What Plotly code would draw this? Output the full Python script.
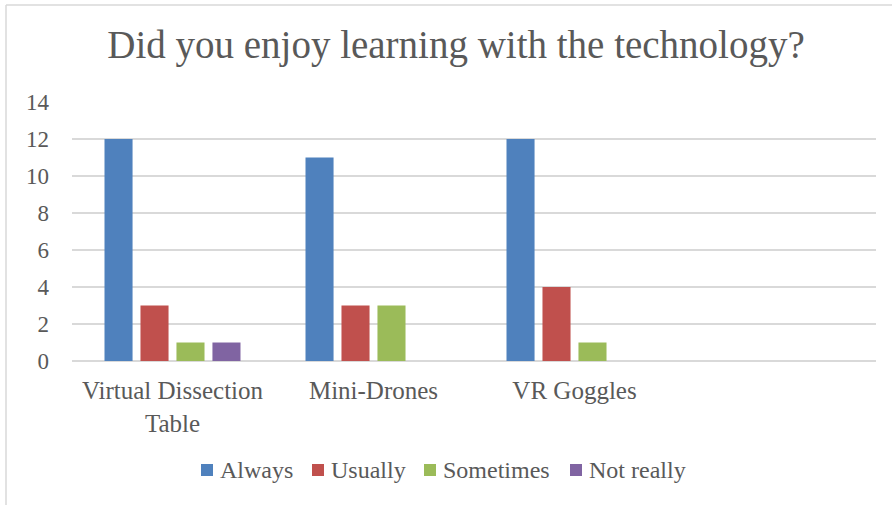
import plotly.graph_objects as go

categories = ["Virtual Dissection<br>Table", "Mini-Drones", "VR Goggles", " "]
always = [12, 11, 12, None]
usually = [3, 3, 4, None]
sometimes = [1, 3, 1, None]
not_really = [1, None, None, None]
series_names = ["Always", "Usually", "Sometimes", "Not really"]
colors = ["#4F81BD", "#C0504D", "#9BBB59", "#8064A2"]
legend_left_px = [201, 312, 424, 570]

FONT = "Liberation Serif"
TXT = "#595959"
fig = go.Figure()
for name, vals, col in zip(series_names, [always, usually, sometimes, not_really], colors):
    fig.add_trace(go.Bar(x=categories, y=vals, name=name, showlegend=False,
                         marker=dict(color=col, line=dict(width=0))))

W, H = 892, 505
L, R, T, B = 72, 16, 102, 144
pw, ph = W - L - R, H - T - B

def px2paper_x(px):
    return (px - L) / pw

def px2paper_y(py):
    return (H - B - py) / ph

shapes = [
    dict(type="line", xref="paper", yref="paper", x0=px2paper_x(6), x1=px2paper_x(6),
         y0=px2paper_y(5), y1=px2paper_y(510), line=dict(color="#D9D9D9", width=1.5)),
    dict(type="line", xref="paper", yref="paper", x0=px2paper_x(6), x1=px2paper_x(900),
         y0=px2paper_y(5), y1=px2paper_y(5), line=dict(color="#D9D9D9", width=1.5)),
]
annotations = []
ly = 470
for name, col, lx in zip(series_names, colors, legend_left_px):
    shapes.append(dict(type="rect", xref="paper", yref="paper",
                       x0=px2paper_x(lx), x1=px2paper_x(lx + 12),
                       y0=px2paper_y(ly + 6), y1=px2paper_y(ly - 6),
                       fillcolor=col, line=dict(width=0)))
    annotations.append(dict(text=name, xref="paper", yref="paper", x=px2paper_x(lx + 17),
                            y=px2paper_y(ly), xanchor="left", yanchor="middle", showarrow=False,
                            font=dict(family=FONT, size=24, color=TXT)))

fig.update_layout(
    width=W, height=H,
    margin=dict(l=L, r=R, t=T, b=B),
    paper_bgcolor="white", plot_bgcolor="white",
    barmode="group", bargap=0.284, bargroupgap=0.22,
    title=dict(text="Did you enjoy learning with the technology?", x=456 / W, xanchor="center",
               y=1 - 44 / H, yanchor="middle",
               font=dict(family=FONT, size=39, color=TXT)),
    font=dict(family=FONT, color=TXT),
    showlegend=False,
    xaxis=dict(categoryorder="array", categoryarray=categories, range=[-0.5, 3.5],
               showline=False, ticks="", tickfont=dict(family=FONT, size=25, color=TXT),
               showgrid=False, fixedrange=True, automargin=False, ticklabelstandoff=12),
    yaxis=dict(range=[0, 14], dtick=2, showgrid=True, gridcolor="#D9D9D9", gridwidth=1.5,
               zeroline=True, zerolinecolor="#D9D9D9", zerolinewidth=1.5, automargin=False,
               tickfont=dict(family=FONT, size=23, color=TXT), ticks="", ticklabelstandoff=22),
    shapes=shapes,
    annotations=annotations,
)

fig.write_html("out.html", config={"displayModeBar": False},
               post_script="document.body.style.margin='0';document.body.style.overflow='hidden';")
